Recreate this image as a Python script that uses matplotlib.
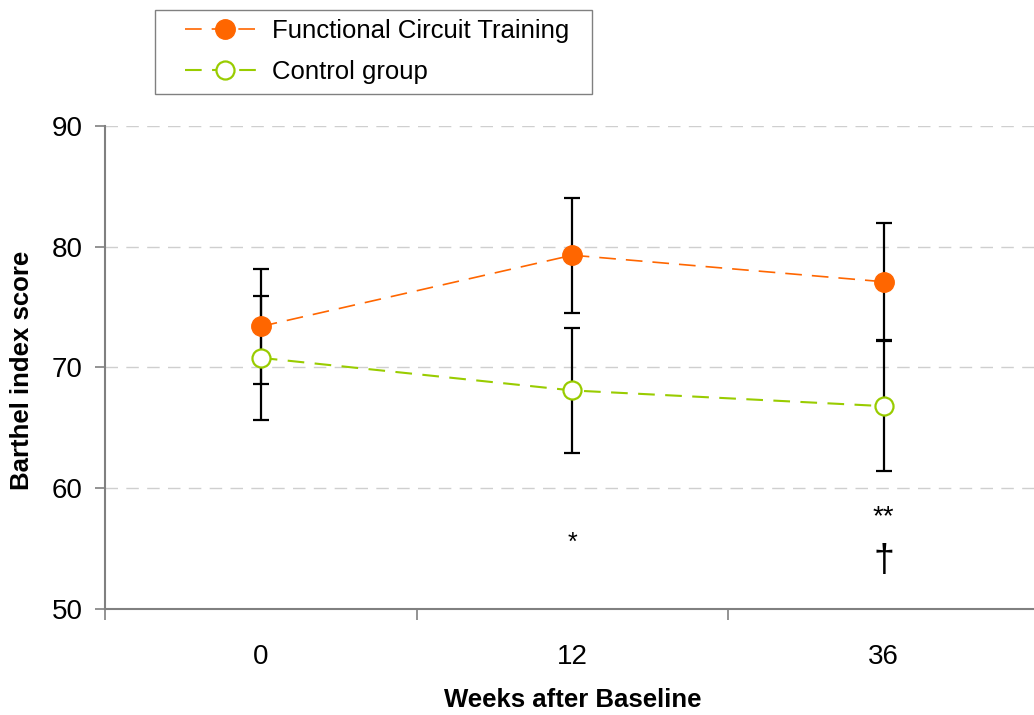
import matplotlib
matplotlib.use("Agg")
import matplotlib.pyplot as plt
from matplotlib.patches import Rectangle

plt.rcParams["font.family"] = ["Liberation Sans", "DejaVu Sans"]

weeks = ["0", "12", "36"]
fct_mean = [73.4, 79.3, 77.1]
fct_sd = [4.75, 4.75, 4.85]
ctrl_mean = [70.8, 68.1, 66.8]
ctrl_sd = [5.15, 5.15, 5.4]
# significance marks: (category index, y, text, size)
marks = [(1, 55.5, "*", 18), (2, 57.6, "**", 20), (2, 54.0, "\u2020", 27)]

orange = "#FF6600"
green = "#99CC00"
axis_grey = "#808080"

fig = plt.figure(figsize=(10.34, 7.15), dpi=100)
ax = fig.add_axes([105 / 1034, 1 - 609 / 715, 934.5 / 1034, 483 / 715])

x = list(range(len(weeks)))

# error bars under the markers
for m, sd in [(fct_mean, fct_sd), (ctrl_mean, ctrl_sd)]:
    ax.errorbar(x, m, yerr=sd, fmt="none", ecolor="black",
                elinewidth=1.6, capsize=5.5, capthick=1.6, zorder=2)

ax.plot(x, fct_mean, color=orange, linestyle=(0, (10, 6)), linewidth=1.2,
        marker="o", markersize=14, markerfacecolor=orange,
        markeredgecolor=orange, label="Functional Circuit Training", zorder=3)
ax.plot(x, ctrl_mean, color=green, linestyle=(0, (8, 5)), linewidth=1.5,
        marker="o", markersize=13, markerfacecolor="white",
        markeredgecolor=green, markeredgewidth=1.6, label="Control group", zorder=3)

for xi, yi, s, fs in marks:
    ax.text(xi, yi, s, ha="center", va="center", fontsize=fs)

ax.set_xlim(-0.5, 2.5)
ax.set_ylim(50, 90)
ax.set_yticks([50, 60, 70, 80, 90])
ax.set_xticks([-0.5, 0.5, 1.5, 2.5])
ax.set_xticklabels([])
ax.set_xticks(x, minor=True)
ax.set_xticklabels(weeks, minor=True)
ax.tick_params(axis="x", which="major", length=8, color=axis_grey, width=1.2)
ax.tick_params(axis="x", which="minor", length=0, pad=25, labelsize=20)
ax.tick_params(axis="y", length=7, color=axis_grey, width=1.2, labelsize=20, pad=9)

for g in [60, 70, 80, 90]:
    ax.axhline(g, color="#CFCFCF", linestyle=(0, (9, 6)), linewidth=1, zorder=1)

for side in ["top", "right"]:
    ax.spines[side].set_visible(False)
for side in ["left", "bottom"]:
    ax.spines[side].set_color(axis_grey)
    ax.spines[side].set_linewidth(1.5)

fig.text(22 / 1034, 1 - 370 / 715, "Barthel index score", rotation=90,
         ha="center", va="center", fontsize=18.5, fontweight="bold")
fig.text(573 / 1034, 1 - 700 / 715, "Weeks after Baseline",
         ha="center", va="center", fontsize=18.5, fontweight="bold")

# legend box drawn by hand, legend itself frameless
fig.patches.append(Rectangle((155 / 1034, 1 - 94 / 715), 437 / 1034, 84 / 715,
                             transform=fig.transFigure, fill=False,
                             edgecolor=axis_grey, linewidth=1))
leg = fig.legend(loc="upper left", bbox_to_anchor=(185 / 1034, 1 - 19 / 715),
                 fontsize=18.5, frameon=False, handlelength=3.1,
                 borderpad=0, labelspacing=0.66, handletextpad=0.3,
                 borderaxespad=0)

fig.savefig("out.png", dpi=100)
